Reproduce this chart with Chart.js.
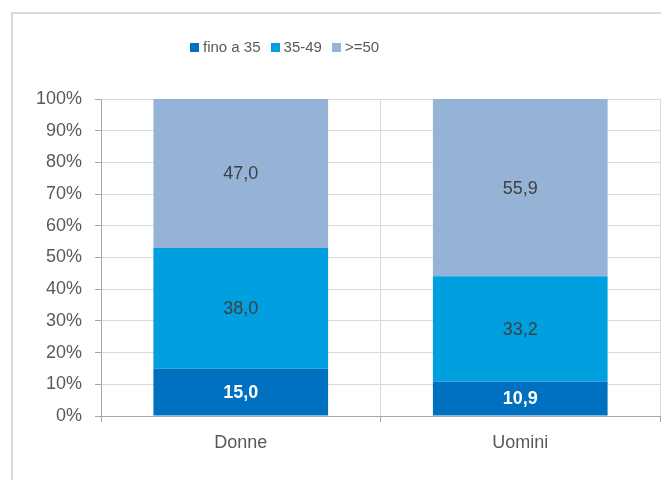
<!DOCTYPE html>
<html>
<head>
<meta charset="utf-8">
<script src="https://cdn.jsdelivr.net/npm/chart.js@4"></script>
<style>
  html, body { margin: 0; padding: 0; background: #fff; }
  body { width: 661px; height: 480px; position: relative; overflow: hidden; }
  #frame {
    position: absolute; left: 11px; top: 12px; width: 720px; height: 520px;
    border: 2px solid #d9d9d9; box-sizing: border-box;
  }
  #wrap { position: absolute; left: 0; top: 0; width: 661px; height: 480px; }
  #legend {
    position: absolute; left: 190px; top: 36px; white-space: nowrap;
    font-family: 'Liberation Sans', Arial, sans-serif;
    font-size: 15px; color: #595959; line-height: 22px;
  }
  #legend span.item { margin-right: 10px; }
  #legend i { display: inline-block; width: 9px; height: 9px; margin-right: 4px; }
</style>
</head>
<body>
<div id="frame"></div>
<div id="wrap"><canvas id="chart" width="661" height="480"></canvas></div>
<div id="legend"></div>
<script>
const FONT = "'Liberation Sans', Arial, sans-serif";

const categories = ['Donne', 'Uomini'];
const seriesNames = ['fino a 35', '35-49', '>=50'];
const seriesColors = ['#0070c0', '#009fe0', '#95b3d7'];
const young = [15.0, 10.9];
const middle = [38.0, 33.2];
const older = [47.0, 55.9];
const yTicks = [0, 10, 20, 30, 40, 50, 60, 70, 80, 90, 100];

const seriesValues = [young, middle, older];

// legend as html, same order as datasets
const legend = document.getElementById('legend');
seriesNames.forEach((name, i) => {
  const item = document.createElement('span');
  item.className = 'item';
  item.innerHTML = `<i style="background:${seriesColors[i]}"></i>`;
  item.appendChild(document.createTextNode(name));
  legend.appendChild(item);
});

const fmt = (v) => v.toFixed(1).replace('.', ',');

const barLabels = {
  id: 'barLabels',
  afterDatasetsDraw(chart) {
    const { ctx } = chart;
    ctx.save();
    ctx.textAlign = 'center';
    ctx.textBaseline = 'middle';
    chart.data.datasets.forEach((ds, di) => {
      const meta = chart.getDatasetMeta(di);
      meta.data.forEach((bar, i) => {
        const first = di === 0;
        ctx.font = `${first ? 'bold ' : ''}18px ${FONT}`;
        ctx.fillStyle = first ? '#ffffff' : '#404040';
        ctx.fillText(fmt(ds.data[i]), bar.x, (bar.y + bar.base) / 2 + 1);
      });
    });
    ctx.restore();
  },
};

new Chart(document.getElementById('chart'), {
  type: 'bar',
  data: {
    labels: categories,
    datasets: seriesNames.map((name, i) => ({
      label: name,
      data: seriesValues[i],
      backgroundColor: seriesColors[i],
      barPercentage: 1,
      categoryPercentage: 0.625,
    })),
  },
  options: {
    responsive: false,
    animation: false,
    layout: { padding: { top: 99, left: 0, right: 1, bottom: 0 } },
    plugins: {
      legend: { display: false },
      tooltip: { enabled: false },
    },
    scales: {
      x: {
        stacked: true,
        afterFit: (scale) => { scale.height = 64; },
        grid: {
          offset: true,
          color: '#d9d9d9',
          tickColor: '#a6a6a6',
          tickLength: 6,
        },
        border: { color: '#a6a6a6' },
        ticks: {
          color: '#595959',
          padding: 10,
          font: { family: FONT, size: 18 },
        },
      },
      y: {
        stacked: true,
        min: 0,
        max: 100,
        afterFit: (scale) => { scale.width = 101; },
        afterBuildTicks: (scale) => {
          scale.ticks = yTicks.map((v) => ({ value: v }));
        },
        grid: {
          color: '#d9d9d9',
          tickColor: '#a6a6a6',
          tickLength: 6,
        },
        border: { color: '#a6a6a6' },
        ticks: {
          color: '#595959',
          padding: 13,
          font: { family: FONT, size: 18 },
          callback: (v) => `${v}%`,
        },
      },
    },
  },
  plugins: [barLabels],
});
</script>
</body>
</html>
